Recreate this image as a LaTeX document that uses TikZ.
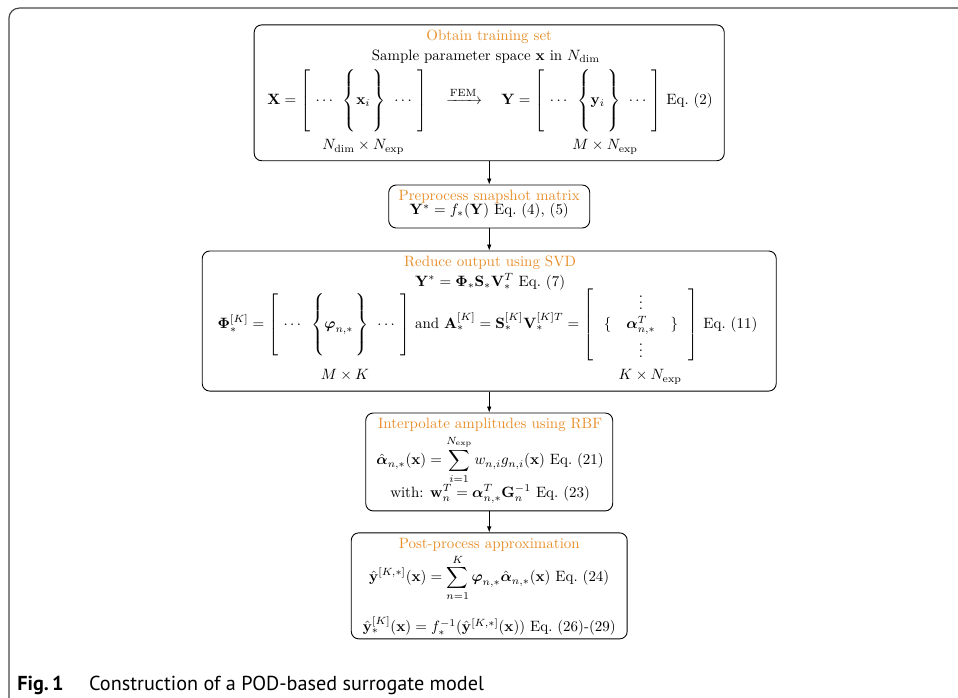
\documentclass[tikz,border=0pt]{standalone}
\usepackage{amsmath}
\usepackage{amssymb}
\usepackage{xcolor}
\usepackage[no-math]{fontspec}
\usepackage{tikz}
\usetikzlibrary{arrows.meta, positioning, calc}

\newfontfamily\capfont{PT Sans}
\definecolor{steporange}{RGB}{232,142,42}
\definecolor{framegray}{RGB}{70,70,70}

% tall strut for the snapshot matrices
\newcommand{\matstrut}{\rule[-17.5pt]{0pt}{40pt}}
\newcommand{\snapmat}[1]{\left[\hspace{3.5pt}\cdots\hspace{5pt}\left\{\matstrut #1\hspace{1.5pt}\right\}\hspace{4pt}\cdots\hspace{3.5pt}\right]}

\begin{document}
\begin{tikzpicture}[
  arrow/.style={-{Latex[length=4pt, width=3pt]}, line width=0.5pt},
  stepbox/.style={draw, rounded corners=5pt, line width=0.6pt, inner sep=0pt},
  txt/.style={inner sep=0pt, align=center},
  ttl/.style={txt, text=steporange}
]

  \clip (0,0) rectangle (22.5,-16.37);

  % outer frame of the figure
  \draw[framegray, line width=0.8pt, rounded corners=0.24cm] (0.21,-17) -- (0.21,-0.19) -- (23,-0.19);

  % STEP 1: training set
  \node[stepbox, minimum width=11.04cm, minimum height=3.19cm] (obtain) at (11.49,-2.18) {};
  \node[ttl] (obtainTitle) at (11.49,-0.87) {Obtain training set};
  \node[txt] (sampleLine) at (11.41,-1.32) {Sample parameter space $\mathbf{x}$ in $N_{\mathrm{dim}}$};
  \node[txt] (femRow) at (11.51,-2.37) {$\mathbf{X} = \snapmat{\mathbf{x}_i}\quad\xrightarrow{\text{FEM}}\quad\mathbf{Y} = \snapmat{\mathbf{y}_i}$ Eq.~(2)};
  \node[txt] (xSize) at (8.53,-3.45) {$N_{\mathrm{dim}}\times N_{\mathrm{exp}}$};
  \node[txt] (ySize) at (14.21,-3.45) {$M\times N_{\mathrm{exp}}$};

  % STEP 2: preprocessing
  \node[stepbox, minimum width=4.72cm, minimum height=1.01cm] (preproc) at (11.49,-4.85) {};
  \node[ttl] (preTitle) at (11.49,-4.62) {Preprocess snapshot matrix};
  \node[txt] (preEq) at (11.49,-4.95) {$\mathbf{Y}^* = f_*(\mathbf{Y})$ Eq.~(4), (5)};

  % STEP 3: SVD
  \node[stepbox, minimum width=13.48cm, minimum height=3.29cm] (reduce) at (11.49,-7.54) {};
  \node[ttl] (svdTitle) at (11.51,-6.18) {Reduce output using SVD};
  \node[txt] (svdEq) at (11.51,-6.62) {$\mathbf{Y}^* = \boldsymbol{\Phi}_*\mathbf{S}_*\mathbf{V}_*^T$ Eq.~(7)};
  \node[txt] (svdRow) at (11.45,-7.63) {$\boldsymbol{\Phi}_*^{[K]} = \snapmat{\boldsymbol{\varphi}_{n,*}}$ and $\mathbf{A}_*^{[K]} = \mathbf{S}_*^{[K]}\mathbf{V}_*^{[K]T} = \left[\hspace{7pt}\begin{matrix} \vdots \\[1pt] \{\quad\boldsymbol{\alpha}_{n,*}^T\quad\} \\[1pt] \vdots \end{matrix}\hspace{7pt}\right]$ Eq.~(11)};
  \node[txt] (phiSize) at (8.10,-8.81) {$M\times K$};
  \node[txt] (ampSize) at (15.27,-8.85) {$K\times N_{\mathrm{exp}}$};

  % STEP 4: RBF interpolation
  \node[stepbox, minimum width=5.80cm, minimum height=2.30cm] (interp) at (11.49,-10.85) {};
  \node[ttl] (rbfTitle) at (11.51,-9.98) {Interpolate amplitudes using RBF};
  \node[txt] (rbfSum) at (11.51,-10.80) {$\displaystyle\hat{\boldsymbol{\alpha}}_{n,*}(\mathbf{x}) = \sum_{i=1}^{N_{\mathrm{exp}}} w_{n,i}g_{n,i}(\mathbf{x})$ Eq.~(21)};
  \node[txt] (rbfWeights) at (11.51,-11.60) {with: $\mathbf{w}_n^T = \boldsymbol{\alpha}_{n,*}^T\mathbf{G}_n^{-1}$ Eq.~(23)};

  % STEP 5: post-processing
  \node[stepbox, minimum width=6.48cm, minimum height=2.49cm] (postproc) at (11.49,-13.76) {};
  \node[ttl] (postTitle) at (11.49,-12.80) {Post-process approximation};
  \node[txt] (postSum) at (11.49,-13.57) {$\displaystyle\hat{\mathbf{y}}^{[K,*]}(\mathbf{x}) = \sum_{n=1}^{K}\boldsymbol{\varphi}_{n,*}\hat{\boldsymbol{\alpha}}_{n,*}(\mathbf{x})$ Eq.~(24)};
  \node[txt] (postInv) at (11.49,-14.70) {$\hat{\mathbf{y}}_*^{[K]}(\mathbf{x}) = f_*^{-1}(\hat{\mathbf{y}}^{[K,*]}(\mathbf{x}))$ Eq.~(26)-(29)};

  % flow
  \draw[arrow] (obtain) -- (preproc);
  \draw[arrow] (preproc) -- (reduce);
  \draw[arrow] (reduce) -- (interp);
  \draw[arrow] (interp) -- (postproc);

  % caption
  \node[anchor=base west, inner sep=0pt, font=\capfont\fontsize{13.5}{16}\selectfont] (caption) at (0.40,-16.21) {\textbf{Fig.\,1}\hspace{17pt}Construction of a POD-based surrogate model};

\end{tikzpicture}
\end{document}
